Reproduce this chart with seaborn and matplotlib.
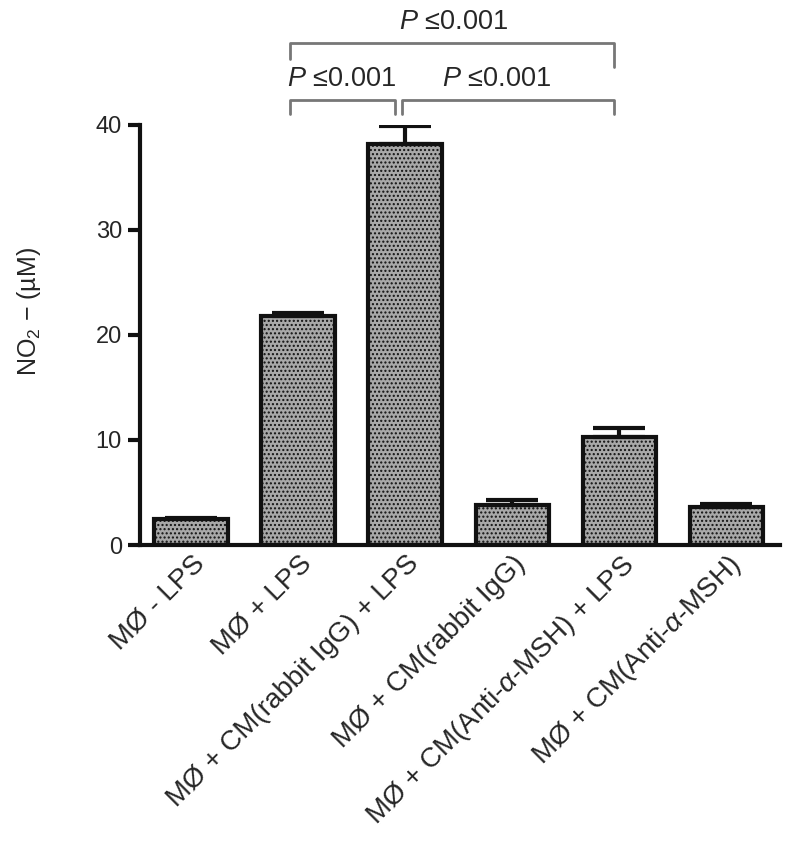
import numpy as np
import pandas as pd
import matplotlib
matplotlib.use("Agg")
import matplotlib.pyplot as plt
import seaborn as sns

# values
groups = ["MØ - LPS", "MØ + LPS", "MØ + CM(rabbit IgG) + LPS", "MØ + CM(rabbit IgG)",
          "MØ + CM(Anti-$\\alpha$-MSH) + LPS", "MØ + CM(Anti-$\\alpha$-MSH)"]
no2 = [2.5, 21.8, 38.2, 3.8, 10.3, 3.6]
sem = [0.1, 0.25, 1.7, 0.45, 0.8, 0.3]

df = pd.DataFrame({"group": groups, "no2": no2})

sns.set_style("ticks")
plt.rcParams["font.family"] = ["Liberation Sans", "DejaVu Sans"]
plt.rcParams["hatch.color"] = "white"
plt.rcParams["mathtext.fontset"] = "custom"
plt.rcParams["mathtext.it"] = "Liberation Sans:italic"
plt.rcParams["mathtext.rm"] = "Liberation Sans"

fig = plt.figure(figsize=(8, 8.49), dpi=100)
ax = fig.add_axes([0.175, 0.358, 0.8, 0.495])

sns.barplot(data=df, x="group", y="no2", color="#a8a8a8", width=0.69,
            edgecolor="#111111", linewidth=3, errorbar=None, saturation=1, ax=ax)
for p in ax.patches:
    p.set_hatch("....")
    p.set_edgecolor("#111111")

x = np.arange(len(groups))
ax.errorbar(x, no2, yerr=[np.zeros(len(sem)), sem], fmt="none", ecolor="#111111",
            elinewidth=3, capsize=19, capthick=3, zorder=1)

ax.set_ylim(0, 40)
ax.set_xlim(-0.48, 5.5)
ax.set_yticks([0, 10, 20, 30, 40])
ax.tick_params(axis="y", length=9, width=3, labelsize=17, pad=4, color="#111111")
ax.tick_params(axis="x", length=0, labelsize=20, pad=4)
plt.setp(ax.get_xticklabels(), rotation=45, ha="right", rotation_mode="anchor")
ax.set_xlabel("")
ax.set_ylabel("NO$_2$ − (µM)", fontsize=18)
ax.yaxis.set_label_coords(-0.152, 0.555)
for s in ["top", "right"]:
    ax.spines[s].set_visible(False)
for s in ["left", "bottom"]:
    ax.spines[s].set_linewidth(3)
    ax.spines[s].set_color("#111111")

# significance brackets
def bracket(x0, x1, y, dl, dr, text=None, tx=None):
    ax.plot([x0, x0, x1, x1], [y - dl, y, y, y - dr], color="#777777", lw=2,
            clip_on=False, solid_joinstyle="round")
    if text:
        ax.text(tx, y + 0.7, text, ha="center", va="bottom", fontsize=19.5, clip_on=False)

ptxt = "$P$ ≤0.001"
bracket(0.92, 3.95, 47.8, 1.5, 2.3, ptxt, 2.45)
bracket(0.92, 1.9, 42.4, 1.4, 1.4, ptxt, 1.4)
bracket(1.97, 3.95, 42.4, 1.4, 1.4, ptxt, 2.85)

fig.savefig("out.png", dpi=100)
